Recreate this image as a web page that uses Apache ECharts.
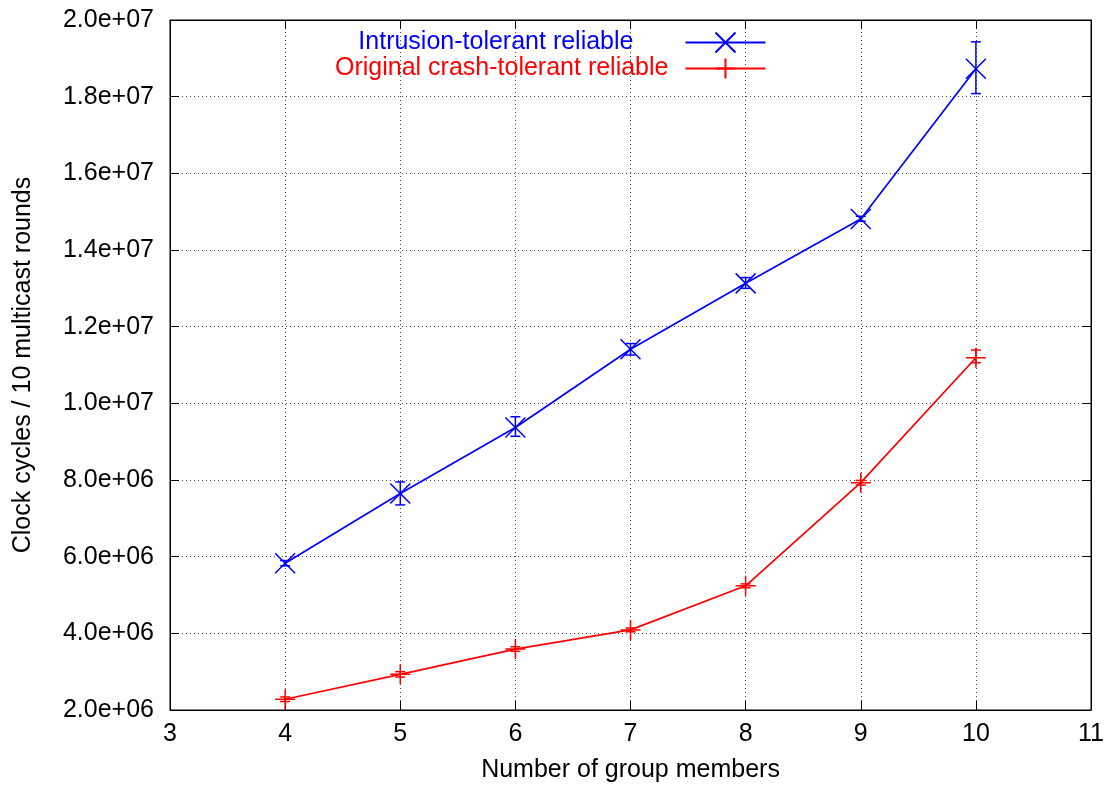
<!DOCTYPE html>
<html>
<head>
<meta charset="utf-8">
<script src="https://cdn.jsdelivr.net/npm/echarts@6/dist/echarts.min.js"></script>
<style>
  html, body { margin: 0; padding: 0; background: #fff; }
  #chart { width: 1107px; height: 789px; }
</style>
</head>
<body>
<div id="chart"></div>
<script>
// group sizes
const members = [4, 5, 6, 7, 8, 9, 10];

// clock cycles per 10 multicast rounds
const intrusionMean = [5.83e6, 7.65e6, 9.37e6, 1.141e7, 1.313e7, 1.481e7, 1.873e7];
const intrusionLow  = [5.76e6, 7.35e6, 9.14e6, 1.126e7, 1.300e7, 1.475e7, 1.808e7];
const intrusionHigh = [5.90e6, 7.95e6, 9.65e6, 1.156e7, 1.328e7, 1.488e7, 1.943e7];

const crashMean = [2.28e6, 2.93e6, 3.59e6, 4.09e6, 5.24e6, 7.93e6, 1.119e7];
const crashLow  = [2.22e6, 2.86e6, 3.53e6, 4.04e6, 5.19e6, 7.87e6, 1.106e7];
const crashHigh = [2.34e6, 3.00e6, 3.65e6, 4.14e6, 5.29e6, 7.99e6, 1.139e7];

const yTicks = [2e6, 2e7, 2e6]; // min, max, step
const xTicks = [3, 11, 1];

const font = 'Liberation Sans, Arial, sans-serif';
const BLUE = '#0000ff';
const RED = '#ff0000';

function pairs(xs, ys) { return xs.map((x, i) => [x, ys[i]]); }
function bars(xs, lo, hi) { return xs.map((x, i) => [x, lo[i], hi[i]]); }

function errorBar(color) {
  return function (params, api) {
    const x = api.value(0);
    const top = api.coord([x, api.value(2)]);
    const bot = api.coord([x, api.value(1)]);
    const w = 5;
    const st = { stroke: color, lineWidth: 1.5 };
    return {
      type: 'group',
      children: [
        { type: 'line', shape: { x1: top[0], y1: top[1], x2: bot[0], y2: bot[1] }, style: st },
        { type: 'line', shape: { x1: top[0] - w, y1: top[1], x2: top[0] + w, y2: top[1] }, style: st },
        { type: 'line', shape: { x1: bot[0] - w, y1: bot[1], x2: bot[0] + w, y2: bot[1] }, style: st }
      ]
    };
  };
}

function sciLabel(v) {
  return v.toExponential(1).replace(/e([+-])(\d)$/, 'e$10$2');
}

const chart = echarts.init(document.getElementById('chart'));
const gridLine = { show: true, lineStyle: { color: '#444', type: [1, 3], width: 1 } };

chart.setOption({
  animation: false,
  backgroundColor: '#fff',
  grid: { left: 170, right: 12, top: 20, bottom: 79, show: true, borderColor: '#000', borderWidth: 1 },
  legend: {
    orient: 'vertical',
    align: 'right',
    left: 335,
    top: 30,
    padding: 0,
    itemGap: 1,
    itemWidth: 80,
    itemHeight: 25,
    textStyle: { fontSize: 25, fontFamily: font },
    data: [
      { name: 'Intrusion-tolerant reliable', textStyle: { color: BLUE, padding: [0, 47, 0, 0] } },
      { name: 'Original crash-tolerant reliable', textStyle: { color: RED, padding: [0, 12, 0, 0] } }
    ]
  },
  xAxis: [{
    type: 'value', min: xTicks[0], max: xTicks[1], interval: xTicks[2],
    name: 'Number of group members', nameLocation: 'middle', nameGap: 48,
    nameTextStyle: { fontSize: 25, fontFamily: font, color: '#000' },
    axisLine: { lineStyle: { color: '#000' } },
    axisTick: { inside: true, length: 9, lineStyle: { color: '#000' } },
    axisLabel: { fontSize: 25, fontFamily: font, color: '#000', margin: 12 },
    splitLine: gridLine
  }, {
    type: 'value', position: 'top', min: xTicks[0], max: xTicks[1], interval: xTicks[2],
    axisLine: { lineStyle: { color: '#000' } },
    axisTick: { inside: true, length: 9, lineStyle: { color: '#000' } },
    axisLabel: { show: false }, splitLine: { show: false }
  }],
  yAxis: [{
    type: 'value', min: yTicks[0], max: yTicks[1], interval: yTicks[2],
    name: 'Clock cycles / 10 multicast rounds', nameLocation: 'middle', nameGap: 134,
    nameTextStyle: { fontSize: 25, fontFamily: font, color: '#000' },
    axisLine: { show: true, lineStyle: { color: '#000' } },
    axisTick: { show: true, inside: true, length: 9, lineStyle: { color: '#000' } },
    axisLabel: { fontSize: 25, fontFamily: font, color: '#000', margin: 16, formatter: sciLabel },
    splitLine: gridLine
  }, {
    type: 'value', position: 'right', min: yTicks[0], max: yTicks[1], interval: yTicks[2],
    axisLine: { show: true, lineStyle: { color: '#000' } },
    axisTick: { show: true, inside: true, length: 9, lineStyle: { color: '#000' } },
    axisLabel: { show: false }, splitLine: { show: false }
  }],
  series: [
    {
      name: 'Intrusion-tolerant reliable', type: 'line',
      data: pairs(members, intrusionMean),
      symbol: 'path://M0,0L10,10M10,0L0,10', symbolSize: 20,
      lineStyle: { color: BLUE, width: 1.7 },
      itemStyle: { color: BLUE, borderColor: BLUE, borderWidth: 1.5 },
      z: 3
    },
    {
      name: 'Original crash-tolerant reliable', type: 'line',
      data: pairs(members, crashMean),
      symbol: 'path://M5,0L5,10M0,5L10,5', symbolSize: 20,
      lineStyle: { color: RED, width: 1.7 },
      itemStyle: { color: RED, borderColor: RED, borderWidth: 1.5 },
      z: 3
    },
    {
      name: 'intrusion-err', type: 'custom',
      data: bars(members, intrusionLow, intrusionHigh),
      renderItem: errorBar(BLUE), z: 2
    },
    {
      name: 'crash-err', type: 'custom',
      data: bars(members, crashLow, crashHigh),
      renderItem: errorBar(RED), z: 2
    }
  ]
});
</script>
</body>
</html>
